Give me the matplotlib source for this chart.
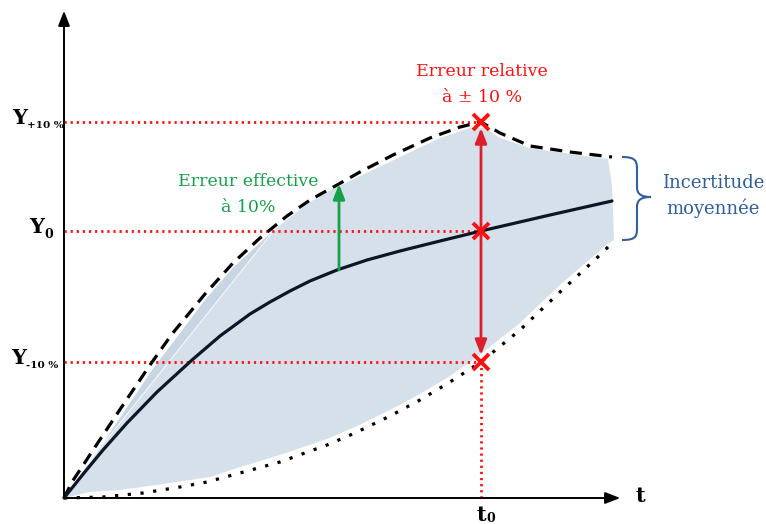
import matplotlib.pyplot as plt
from matplotlib.path import Path
from matplotlib.patches import PathPatch

# values (t along x, response along y, origin at the axes corner)
t0 = 417
Y_levels = [376, 267, 136]          # Y+10%, Y0, Y-10%
Y_subs = ['+10 %', '0', '-10 %']

mean_t = [0, 20, 39, 63, 93, 128, 156, 186, 206, 226, 246, 273, 303, 336, 376, 417, 486, 548]
mean_y = [0, 25, 48, 75, 106, 138, 162, 184, 196, 207, 217, 228, 238, 247, 257, 267, 283, 297]

upper_t = [0, 8, 39, 59, 86, 108, 141, 169, 196, 223, 246, 273, 296, 329, 366, 396, 417, 436, 466, 506, 548]
upper_y = [0, 16, 63, 93, 133, 164, 204, 235, 260, 282, 298, 313, 326, 343, 360, 371, 376, 365, 352, 346, 341]

lower_t = [0, 39, 79, 116, 143, 176, 216, 263, 291, 326, 356, 386, 417, 456, 496, 536, 548]
lower_y = [0, 1, 5, 11, 16, 25, 36, 53, 65, 82, 98, 116, 136, 168, 206, 243, 255]

band_top_t = [0, 36, 66, 91, 111, 141, 169, 196, 211, 246, 269, 296, 336, 376, 406, 421, 436, 466, 506, 544, 548, 550]
band_top_y = [0, 50, 95, 132, 158, 198, 230, 255, 269, 296, 309, 322, 341, 360, 370, 370, 360, 350, 344, 339, 313, 258]
band_bot_t = [541, 496, 456, 417, 386, 356, 326, 291, 263, 216, 176, 146, 99, 56, 26, 0]
band_bot_y = [252, 213, 175, 144, 122, 104, 88, 71, 59, 43, 31, 21, 14, 8, 6, 0]

fig = plt.figure(figsize=(7.66, 5.24), dpi=100)
ax = fig.add_axes([0, 0, 1, 1])
ax.set_xlim(-64, 702)
ax.set_ylim(-26, 498)
ax.axis('off')

# shaded uncertainty band, with the darker sliver on the left
ax.fill(band_top_t + band_bot_t, band_top_y + band_bot_y, color='#d6e0ea', lw=0, zorder=1)
ax.fill(band_top_t[1:9] + [band_top_t[1]], band_top_y[1:9] + [band_top_y[1]],
        color='#c8d5e3', lw=0, zorder=1)
ax.plot([band_top_t[1], band_top_t[8]], [band_top_y[1], band_top_y[8]], color='white', lw=0.6, zorder=1)

# red reference lines
red = '#ff1010'
for yv in Y_levels:
    ax.plot([0, t0], [yv, yv], color=red, lw=2, ls=(0, (0.8, 1.4)), zorder=2)
ax.plot([t0, t0], [0, Y_levels[2]], color=red, lw=2, ls=(0, (0.8, 1.4)), zorder=2)

# curves
ax.plot(upper_t, upper_y, color='black', lw=2.3, ls=(0, (3.8, 2.4)), zorder=3)
ax.plot(lower_t, lower_y, color='black', lw=2.3, ls=(0, (1, 3)), zorder=3)
ax.plot(mean_t, mean_y, color='#0d1626', lw=2.3, zorder=4, solid_capstyle='round', solid_joinstyle='round')

# axes with arrows
ax.annotate('', xy=(0, 490), xytext=(0, -1),
            arrowprops=dict(arrowstyle='-|>,head_length=0.9,head_width=0.35', color='black', lw=1.4), zorder=5)
ax.annotate('', xy=(559, 0), xytext=(-1, 0),
            arrowprops=dict(arrowstyle='-|>,head_length=0.9,head_width=0.35', color='black', lw=1.4), zorder=5)

# relative error arrow and markers
ax.annotate('', xy=(t0, 370), xytext=(t0, 143),
            arrowprops=dict(arrowstyle='<|-|>,head_length=0.9,head_width=0.35', color='#dc1e2c', lw=2,
                            shrinkA=0, shrinkB=0), zorder=5)
ax.plot([t0] * 3, Y_levels, ls='none', marker='x', ms=12, mew=2.8, color=red, zorder=6)

# effective error arrow
ax.annotate('', xy=(275, 314), xytext=(275, 228),
            arrowprops=dict(arrowstyle='-|>,head_length=0.9,head_width=0.35', color='#17a04a', lw=2,
                            shrinkA=0, shrinkB=0), zorder=5)

# brace
brace = Path([(558, 341), (573, 341), (573, 336), (573, 327),
              (573, 311), (573, 304), (577, 301), (587, 301),
              (577, 301), (573, 298), (573, 291),
              (573, 272), (573, 262), (573, 258), (558, 258)],
             [Path.MOVETO, Path.CURVE4, Path.CURVE4, Path.CURVE4,
              Path.LINETO, Path.CURVE4, Path.CURVE4, Path.CURVE4,
              Path.CURVE4, Path.CURVE4, Path.CURVE4,
              Path.LINETO, Path.CURVE4, Path.CURVE4, Path.CURVE4])
ax.add_patch(PathPatch(brace, fill=False, edgecolor='#2f5f9e', lw=1.5, zorder=5))

# texts
serif = 'DejaVu Serif'
ax.text(418, 426, 'Erreur relative', color=red, family=serif, fontsize=12.5, ha='center', va='center')
ax.text(418, 401, 'à ± 10 %', color=red, family=serif, fontsize=12.5, ha='center', va='center')
ax.text(184, 316, 'Erreur effective', color='#17a04a', family=serif, fontsize=12.5, ha='center', va='center')
ax.text(184, 291, 'à 10%', color='#17a04a', family=serif, fontsize=12.5, ha='center', va='center')
ax.text(649, 315, 'Incertitude', color='#2f5f9e', family=serif, fontsize=13, ha='center', va='center')
ax.text(649, 290, 'moyennée', color='#2f5f9e', family=serif, fontsize=13, ha='center', va='center')

y_right = [-37, -20, -38]
for yv, sub, xr in zip(Y_levels, Y_subs, y_right):
    ax.text(xr, yv + 4, 'Y', family=serif, weight='bold', fontsize=15, ha='right', va='center')
    ax.text(xr, yv - 3, sub, family=serif, weight='bold', fontsize=7.5 if sub != '0' else 9,
            ha='left', va='center')

ax.text(576, 2, 't', family=serif, weight='bold', fontsize=15, ha='center', va='center')
ax.text(422, -17, 't', family=serif, weight='bold', fontsize=15, ha='right', va='center')
ax.text(422, -21, '0', family=serif, weight='bold', fontsize=9, ha='left', va='center')

fig.savefig('out.png', dpi=100)
